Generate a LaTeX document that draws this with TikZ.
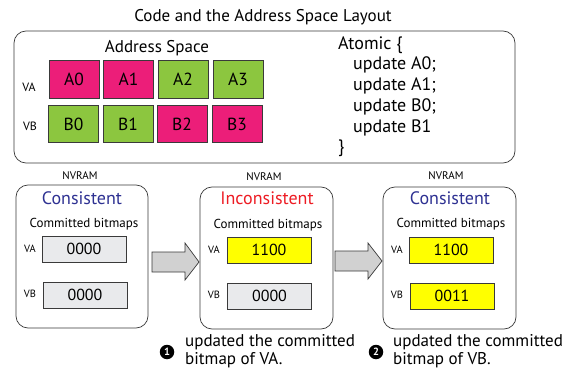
\documentclass[tikz,border=0pt]{standalone}
\usepackage{fontspec}
\setmainfont{PT Sans}
\definecolor{cpink}{HTML}{EC1E79}
\definecolor{cgreen}{HTML}{8CC63F}
\definecolor{cyel}{HTML}{FFFF00}
\definecolor{cgray}{HTML}{E9EAEC}
\definecolor{cblue}{HTML}{2E3192}
\definecolor{cred}{HTML}{ED1C24}
\definecolor{cline}{HTML}{3A3A3A}
\begin{document}
\begin{tikzpicture}[x=1pt,y=-1pt,
  cell/.style={draw=cline, line width=0.7pt, minimum width=50pt, minimum height=37.5pt, inner sep=0pt, font=\fontsize{17.5}{17.5}\selectfont},
  bits/.style={draw=cline, line width=0.7pt, minimum width=84pt, minimum height=26pt, inner sep=0pt, font=\fontsize{16}{16}\selectfont},
  panel/.style={draw=cline, line width=0.7pt, rounded corners=12pt, inner sep=0pt},
  small/.style={font=\fontsize{10.5}{10.5}\selectfont, inner sep=0pt},
  rowlab/.style={font=\fontsize{12}{12}\selectfont, inner sep=0pt},
  nv/.style={font=\fontsize{11}{11}\selectfont, inner sep=0pt},
  cb/.style={font=\fontsize{13}{13}\selectfont, inner sep=0pt},
  code/.style={anchor=west, font=\fontsize{18}{18}\selectfont, inner sep=0pt},
  state/.style={font=\fontsize{18}{18}\selectfont, inner sep=0pt},
  captext/.style={anchor=north west, align=left, font=\fontsize{17}{18}\selectfont, inner sep=0pt},
  blockarrow/.style={draw=cline, line width=0.7pt, fill=black!18},
  num/.style={circle, fill=black, text=white, inner sep=0pt, minimum size=14.5pt, font=\bfseries\fontsize{10.5}{10.5}\selectfont}
]
\useasboundingbox (0,0) rectangle (574,369);

% title and top panel
\node[font=\fontsize{17}{17}\selectfont, inner sep=0pt] (title) at (263,17) {Code and the Address Space Layout};
\node[panel, minimum width=501pt, minimum height=132pt] (top) at (264.5,97) {};
\node[font=\fontsize{17}{17}\selectfont, inner sep=0pt] (as) at (157,48) {Address Space};
\node[rowlab] (va) at (29,87) {VA};
\node[rowlab] (vb) at (30,126) {VB};
\node[cell, fill=cpink]  (a0) at (74,79.5) {A0};
\node[cell, fill=cpink]  (a1) at (128.5,79.5) {A1};
\node[cell, fill=cgreen] (a2) at (183,79.5) {A2};
\node[cell, fill=cgreen] (a3) at (238,79.5) {A3};
\node[cell, fill=cgreen] (b0) at (73.5,124) {B0};
\node[cell, fill=cgreen] (b1) at (128,124) {B1};
\node[cell, fill=cpink]  (b2) at (182,124) {B2};
\node[cell, fill=cpink]  (b3) at (237,124) {B3};

\node[code] (c0) at (338,45) {Atomic \{};
\node[code] (c1) at (353,65) {update A0;};
\node[code] (c2) at (353,86) {update A1;};
\node[code] (c3) at (353,107) {update B0;};
\node[code] (c4) at (353,128) {update B1};
\node[code] (c5) at (338,148) {\}};

% NVRAM panels
\node[nv] (n1) at (80,176) {NVRAM};
\node[nv] (n2) at (264,177) {NVRAM};
\node[nv] (n3) at (446,176) {NVRAM};

\node[panel, minimum width=132pt, minimum height=143pt] (p1) at (82,256.5) {};
\node[panel, minimum width=133pt, minimum height=142pt] (p2) at (266.5,258) {};
\node[panel, minimum width=133pt, minimum height=142pt] (p3) at (449.5,258) {};

\node[state, text=cblue] (s1) at (82,198) {Consistent};
\node[state, text=cred]  (s2) at (267,198) {Inconsistent};
\node[state, text=cblue] (s3) at (450,198) {Consistent};

\node[cb] (m1) at (84,224) {Committed bitmaps};
\node[cb] (m2) at (268,225) {Committed bitmaps};
\node[cb] (m3) at (451,224) {Committed bitmaps};

\node[small] (l1a) at (30,249) {VA};
\node[small] (l1b) at (30,294) {VB};
\node[small] (l2a) at (214,250) {VA};
\node[small] (l2b) at (214,295) {VB};
\node[small] (l3a) at (397,250) {VA};
\node[small] (l3b) at (397,295) {VB};

\node[bits, fill=cgray] (x1a) at (84,249) {0000};
\node[bits, fill=cgray] (x1b) at (85,295) {0000};
\node[bits, fill=cyel]  (x2a) at (269,250) {1100};
\node[bits, fill=cgray] (x2b) at (269.5,296) {0000};
\node[bits, fill=cyel]  (x3a) at (451,250) {1100};
\node[bits, fill=cyel]  (x3b) at (452,296) {0011};

% block arrows
\draw[blockarrow] (152,252) -- (185,252) -- (185,243) -- (199,262) -- (185,280) -- (185,272) -- (152,272) -- cycle;
\draw[blockarrow] (335,251) -- (368,251) -- (368,243) -- (382,261) -- (368,279) -- (368,271) -- (335,271) -- cycle;

% captions
\node[num] (k1) at (167,352) {1};
\node[captext] (t1) at (185,334.5) {updated the committed\\bitmap of VA.};
\node[num] (k2) at (376,352) {2};
\node[captext] (t2) at (393,334.5) {updated the committed\\bitmap of VB.};
\end{tikzpicture}
\end{document}
